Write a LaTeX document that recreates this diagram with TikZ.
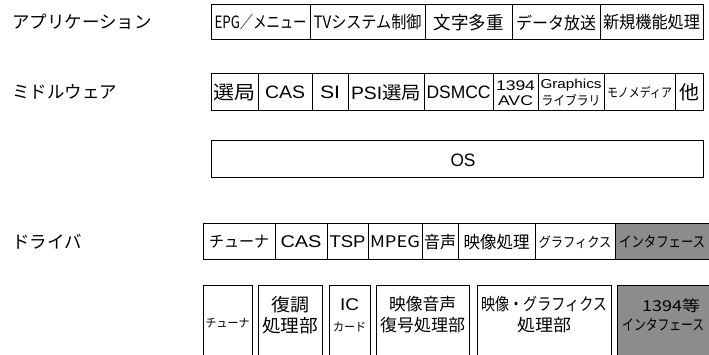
\documentclass[tikz,border=0pt]{standalone}
\usepackage{fontspec}
\usepackage{graphicx}
\setmainfont{Noto Sans CJK JP}
\newfontfamily\lat{Liberation Sans}
\newsavebox\fitbox
\newcommand\fitto[2]{\sbox\fitbox{#2}\pgfmathsetmacro\fitr{#1/\the\wd\fitbox}\scalebox{\fitr}[1]{\usebox\fitbox}}
\newcommand\ft[3]{{\fontsize{#1}{#1}\selectfont\fitto{#2}{#3}}}
\tikzset{
  cell/.style={draw=black, line width=1pt, rectangle, inner sep=0pt},
  grayc/.style={cell, fill=black!45},
  lbl/.style={anchor=west, inner sep=0pt, font=\fontsize{17.5}{18}\selectfont},
  two/.style={align=center, inner sep=0pt, font=\fontsize{#1}{#1}\selectfont},
}
\begin{document}
\begin{tikzpicture}[x=1pt,y=-1pt]
\useasboundingbox (0,0) rectangle (709,355);
\clip (0,0) rectangle (709,355);
% left labels
\node[lbl] (lapp) at (12,22) {アプリケーション};
\node[lbl] (lmid) at (12,92) {ミドルウェア};
\node[lbl] (ldrv) at (12,242) {ドライバ};
% row 1 application
\node[cell, minimum width=99pt, minimum height=35pt] (a1) at (260.5,22.5) {\ft{17}{92pt}{EPG／メニュー}};
\node[cell, minimum width=115pt, minimum height=35pt] (a2) at (367.5,22.5) {\ft{17}{108pt}{TVシステム制御}};
\node[cell, minimum width=87pt, minimum height=35pt] (a3) at (468.5,22.5) {\ft{18}{70pt}{文字多重}};
\node[cell, minimum width=88pt, minimum height=35pt] (a4) at (556,22.5) {\ft{17}{80pt}{データ放送}};
\node[cell, minimum width=103pt, minimum height=35pt] (a5) at (651.5,22.5) {\ft{17}{97pt}{新規機能処理}};
% row 2 middleware
\node[cell, minimum width=47pt, minimum height=37pt] (m1) at (234.5,92.5) {\ft{19}{42pt}{選局}};
\node[cell, minimum width=54pt, minimum height=37pt] (m2) at (285,92.5) {\ft{18}{40pt}{\lat CAS}};
\node[cell, minimum width=36pt, minimum height=37pt] (m3) at (330,92.5) {\ft{18}{20pt}{\lat SI}};
\node[cell, minimum width=76pt, minimum height=37pt] (m4) at (386,92.5) {\ft{18}{70pt}{{\lat PSI}選局}};
\node[cell, minimum width=69pt, minimum height=37pt] (m5) at (458.5,92.5) {\ft{18}{64pt}{\lat DSMCC}};
\node[cell, minimum width=45pt, minimum height=37pt] (m6) at (515.5,92.5) {};
\node[two=14, align=center] (m6t) at (515.5,93) {\ft{14}{39pt}{\lat 1394}\\[1pt]\ft{14}{35pt}{\lat AVC}};
\node[cell, minimum width=66pt, minimum height=37pt] (m7) at (571,92.5) {};
\node[two=13, align=center] (m7t) at (571,92.5) {\ft{13}{61pt}{\lat Graphics}\\[2pt]\ft{13}{59pt}{ライブラリ}};
\node[cell, minimum width=71pt, minimum height=37pt] (m8) at (639.5,92.5) {\ft{13}{65pt}{モノメディア}};
\node[cell, minimum width=28pt, minimum height=37pt] (m9) at (689,92.5) {\ft{19}{20pt}{他}};
% row 3 OS
\node[cell, minimum width=492pt, minimum height=37pt] (os) at (457,159.5) {};
\node[inner sep=0pt] (ost) at (463,160) {\ft{18}{25pt}{\lat OS}};
% row 4 driver
\node[cell, minimum width=72pt, minimum height=36pt] (d1) at (239,242) {\ft{16}{60pt}{チューナ}};
\node[cell, minimum width=52pt, minimum height=36pt] (d2) at (301,242) {\ft{17}{41pt}{\lat CAS}};
\node[cell, minimum width=41pt, minimum height=36pt] (d3) at (347.5,242) {\ft{17}{36pt}{\lat TSP}};
\node[cell, minimum width=54pt, minimum height=36pt] (d4) at (395,242) {\ft{16}{50pt}{MPEG}};
\node[cell, minimum width=36pt, minimum height=36pt] (d5) at (440,242) {\ft{17}{32pt}{音声}};
\node[cell, minimum width=77pt, minimum height=36pt] (d6) at (496.5,242) {\ft{17}{66pt}{映像処理}};
\node[cell, minimum width=80pt, minimum height=36pt] (d7) at (575,242) {\ft{14}{73pt}{グラフィクス}};
\node[grayc, minimum width=100pt, minimum height=36pt] (d8) at (665,242) {};
\node[inner sep=0pt, anchor=west] (d8t) at (619,242) {\ft{15}{86pt}{インタフェース}};
% row 5 hardware
\node[cell, minimum width=49pt, minimum height=90pt] (b1) at (227.5,330) {};
\node[inner sep=0pt] (b1t) at (227.5,323) {\ft{12}{44pt}{チューナ}};
\node[cell, minimum width=64pt, minimum height=90pt] (b2) at (290,330) {};
\node[two=18] (b2t) at (290,315) {\ft{18}{38pt}{復調}\\[3pt]\ft{18}{56pt}{処理部}};
\node[cell, minimum width=41pt, minimum height=90pt] (b3) at (349.5,330) {};
\node[two=17] (b3t) at (349.5,315) {\ft{17}{19pt}{\lat IC}\\[4pt]\ft{12}{33pt}{カード}};
\node[cell, minimum width=93pt, minimum height=90pt] (b4) at (422.5,330) {};
\node[two=17] (b4t) at (422.5,315) {\ft{17}{67pt}{映像音声}\\[4pt]\ft{17}{85pt}{復号処理部}};
\node[cell, minimum width=134pt, minimum height=90pt] (b5) at (544,330) {};
\node[two=17] (b5t) at (544,315) {\ft{17}{126pt}{映像・グラフィクス}\\[4pt]\ft{17}{54pt}{処理部}};
\node[grayc, minimum width=98pt, minimum height=90pt] (b6) at (666,330) {};
\node[two=15, anchor=west] (b6t) at (622,315) {\hspace*{16pt}\ft{15}{58pt}{1394等}\\[4pt]\ft{15}{82pt}{インタフェース}};
\end{tikzpicture}
\end{document}
